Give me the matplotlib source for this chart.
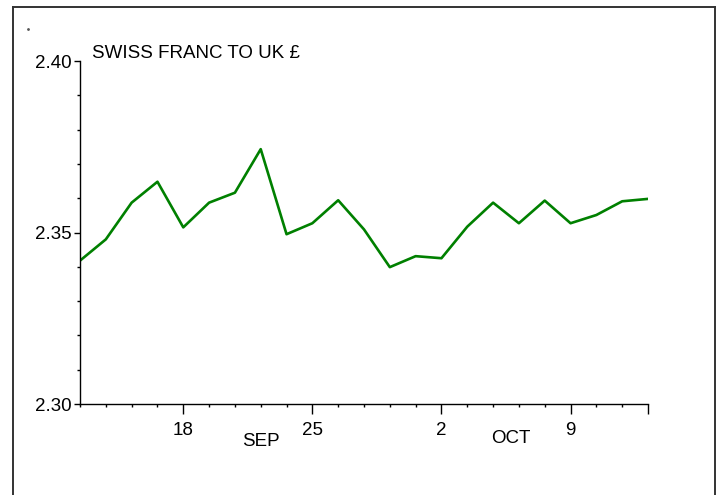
import matplotlib
matplotlib.use("Agg")
import matplotlib.pyplot as plt
from matplotlib.lines import Line2D
from matplotlib.ticker import FixedLocator, MultipleLocator

# trading days from Tue 12 Sep to Thu 12 Oct
rates = [2.3418, 2.3480, 2.3587, 2.3648, 2.3515, 2.3587, 2.3616, 2.3743,
         2.3495, 2.3527, 2.3594, 2.3509, 2.3399, 2.3431, 2.3425, 2.3517,
         2.3587, 2.3527, 2.3593, 2.3527, 2.3551, 2.3591, 2.3598]
day_index = list(range(len(rates)))
major_days = [4, 9, 14, 19]
major_labels = ["18", "25", "2", "9"]
month_labels = ["SEP", "OCT"]
month_pos = [7.0, 16.7]
y_major = [2.30, 2.35, 2.40]

FONT = ["Liberation Sans Narrow", "Liberation Sans", "DejaVu Sans"]
plt.rcParams["font.family"] = FONT
plt.rcParams["font.size"] = 13.5

W, H = 723, 495
fig = plt.figure(figsize=(W / 100, H / 100), dpi=100)
ax = fig.add_axes([80 / W, (H - 404) / H, (648 - 80) / W, (404 - 61) / H])

ax.plot(day_index, rates, color="#008000", lw=1.9)
ax.set_xlim(0, 22)
ax.set_ylim(2.30, 2.40)

for side in ("top", "right"):
    ax.spines[side].set_visible(False)
for side in ("left", "bottom"):
    ax.spines[side].set_linewidth(1.0)

ax.yaxis.set_major_locator(FixedLocator(y_major))
ax.yaxis.set_minor_locator(MultipleLocator(0.01))
ax.set_yticklabels([f"{v:.2f}" for v in y_major])
ax.tick_params(axis="y", which="major", length=4, width=1, pad=2)
ax.tick_params(axis="y", which="minor", length=2, width=1)

ax.xaxis.set_major_locator(FixedLocator(major_days + [22]))
ax.xaxis.set_minor_locator(MultipleLocator(1))
ax.set_xticklabels(major_labels + [""])
ax.tick_params(axis="x", which="major", length=7, width=1, pad=6)
ax.tick_params(axis="x", which="minor", length=2.5, width=1)

for lab, pos, off in zip(month_labels, month_pos, [-0.108, -0.102]):
    ax.text(pos, off, lab, transform=ax.get_xaxis_transform(),
            ha="center", va="center", fontsize=13.5)

fig.text(92 / W, 1 - 54 / H, "SWISS FRANC TO UK £", ha="left", va="center",
         fontsize=13.5)

# outer frame (open at the bottom)
frame_kw = dict(color="#333333", lw=1.4, transform=fig.transFigure)
fig.add_artist(Line2D([13 / W, 13 / W], [0, 1 - 7 / H], **frame_kw))
fig.add_artist(Line2D([13 / W, 715 / W], [1 - 7 / H, 1 - 7 / H], **frame_kw))
fig.add_artist(Line2D([715 / W, 715 / W], [0, 1 - 7 / H], **frame_kw))
fig.add_artist(Line2D([28 / W], [1 - 29 / H], marker="o", ms=1, color="#555555",
                      transform=fig.transFigure))

fig.savefig("out.png", dpi=100)
